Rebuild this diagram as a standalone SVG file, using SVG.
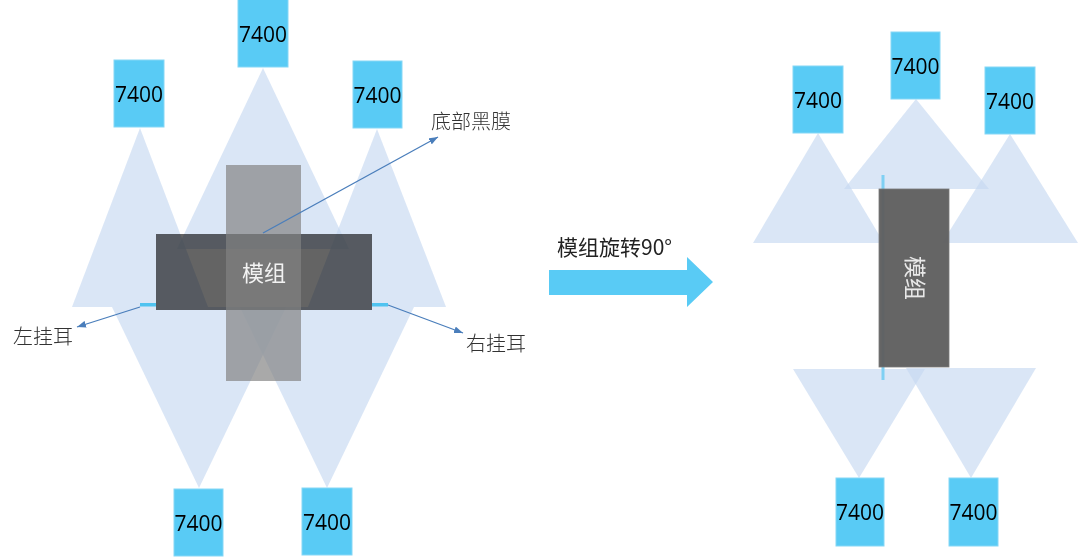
<svg xmlns="http://www.w3.org/2000/svg" width="1080" height="557" viewBox="0 0 1080 557">
<style>
.cone{fill:#C6D9F1;fill-opacity:0.65}
.cam{fill:#59CBF5;stroke:#86D7F6;stroke-width:1}
.camt{font-family:"Open Sans","Noto Sans",sans-serif;font-size:21px;fill:#000;text-anchor:middle}
.lbl{font-family:"Liberation Serif","Noto Sans CJK SC",serif;font-size:20px;fill:#333;font-weight:300}
.conn{stroke:#4A7EBB;stroke-width:1.3;fill:none}
.ear{fill:#4FC3F0}
</style>
<defs>
<marker id="ah" markerUnits="userSpaceOnUse" markerWidth="9" markerHeight="7" refX="9" refY="3.5" orient="auto">
<path d="M0,0 L9,3.5 L0,7 z" fill="#4A7EBB"/>
</marker>
</defs>
<rect width="1080" height="557" fill="#fff"/>

<!-- LEFT DIAGRAM -->
<g id="cones-left">
<polygon class="cone" points="140,128 72,307 208,307"/>
<polygon class="cone" points="263,68 177,249 349,249"/>
<polygon class="cone" points="377,129 308,307 446,307"/>
<polygon class="cone" points="199,488 112,307 286,307"/>
<polygon class="cone" points="327,488 240,307 414,307"/>
</g>
<g id="cam-l1"><rect class="cam" x="114" y="60" width="50" height="67"/><text class="camt" x="139" y="102">7400</text></g>
<g id="cam-l2"><rect class="cam" x="238" y="-1" width="50" height="68"/><text class="camt" x="263" y="42">7400</text></g>
<g id="cam-l3"><rect class="cam" x="353" y="61" width="49" height="67"/><text class="camt" x="377.5" y="103">7400</text></g>
<g id="cam-l4"><rect class="cam" x="174" y="489" width="49" height="67"/><text class="camt" x="198.5" y="531">7400</text></g>
<g id="cam-l5"><rect class="cam" x="302" y="488" width="50" height="67"/><text class="camt" x="327" y="530">7400</text></g>

<g id="module-left">
<rect x="156" y="234" width="216" height="76" fill="#646464" style="mix-blend-mode:multiply"/>
</g>
<g id="black-film">
<rect x="226" y="165" width="75" height="216" fill="#828282" fill-opacity="0.69"/>
</g>
<text x="264" y="281" font-family="Liberation Serif,'Noto Sans CJK SC',serif" font-size="22" fill="#F2F2F2" text-anchor="middle">模组</text>
<g id="ear-left"><rect class="ear" x="140" y="303" width="16" height="3.5"/></g>
<g id="ear-right"><rect class="ear" x="372" y="303" width="16" height="3.5"/></g>

<g id="connectors">
<line class="conn" x1="263" y1="233" x2="438" y2="137" marker-end="url(#ah)"/>
<line class="conn" x1="140" y1="307" x2="77" y2="327" marker-end="url(#ah)"/>
<line class="conn" x1="388" y1="305" x2="463" y2="333" marker-end="url(#ah)"/>
</g>
<g id="labels">
<text class="lbl" x="431" y="129">底部黑膜</text>
<text class="lbl" x="13" y="344">左挂耳</text>
<text class="lbl" x="466" y="351">右挂耳</text>
</g>

<!-- ROTATE ARROW -->
<g id="rotate-arrow">
<polygon points="549,270 687,270 687,257 713,282 687,307 687,295 549,295" fill="#59CBF5"/>
<text x="557" y="255" font-family="'Noto Sans CJK SC','Noto Sans',sans-serif" font-size="21" fill="#222">模组旋转90°</text>
</g>

<!-- RIGHT DIAGRAM -->
<g id="cones-right">
<polygon class="cone" points="818,133 753,243 884,243"/>
<polygon class="cone" points="916,99 844,189 989,189"/>
<polygon class="cone" points="1010,134 942,243 1078,243"/>
<polygon class="cone" points="859,478 793,369 925,369"/>
<polygon class="cone" points="971,478 906,368 1036,368"/>
</g>
<g id="ear-right-diagram"><rect x="881.5" y="175" width="3" height="205" fill="#7FD0F3"/></g>
<g id="cam-r1"><rect class="cam" x="793" y="66" width="50" height="67"/><text class="camt" x="818" y="108">7400</text></g>
<g id="cam-r2"><rect class="cam" x="891" y="32" width="49" height="67"/><text class="camt" x="915.5" y="74">7400</text></g>
<g id="cam-r3"><rect class="cam" x="985" y="67" width="50" height="67"/><text class="camt" x="1010" y="109">7400</text></g>
<g id="cam-r4"><rect class="cam" x="836" y="478" width="48" height="68"/><text class="camt" x="860" y="520">7400</text></g>
<g id="cam-r5"><rect class="cam" x="949" y="478" width="49" height="68"/><text class="camt" x="973.5" y="520">7400</text></g>
<g id="module-right">
<rect x="879" y="189" width="70" height="178" fill="#5F5F5F" fill-opacity="0.96" stroke="#7a7a7a" stroke-width="0.8"/>
<text x="0" y="0" transform="translate(914,278) rotate(90)" font-family="Liberation Serif,'Noto Sans CJK SC',serif" font-size="22" fill="#E8E8E8" text-anchor="middle" dominant-baseline="central">模组</text>
</g>
</svg>
